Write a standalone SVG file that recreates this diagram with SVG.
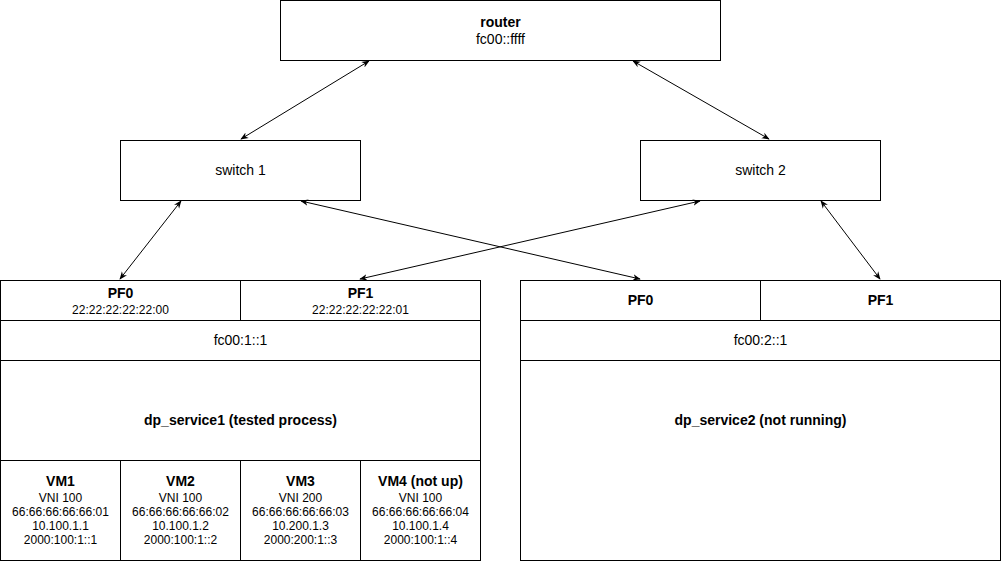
<svg xmlns="http://www.w3.org/2000/svg" width="1001" height="561" viewBox="0 0 1001 561">
<style>
.box{fill:#fff;stroke:#000;stroke-width:1}
.t{font-family:"Liberation Sans",Arial,sans-serif;font-size:14px;fill:#000;text-anchor:middle}
.s{font-size:12px}
.b{font-weight:bold}
.c{stroke:#000;stroke-width:1;fill:none;marker-start:url(#a);marker-end:url(#a)}
</style>
<defs>
<marker id="a" viewBox="0 0 10 10" refX="9" refY="5" markerWidth="8" markerHeight="8" orient="auto-start-reverse" markerUnits="userSpaceOnUse">
<path d="M0,1 L10,5 L0,9 L3,5 Z" fill="#000"/>
</marker>
</defs>
<rect width="1001" height="561" fill="#fff"/>
<g id="router">
<rect class="box" x="280.5" y="0.5" width="440" height="60"/>
<text class="t b" x="500.5" y="27">router</text>
<text class="t" x="500.5" y="44">fc00::ffff</text>
</g>
<g id="switch1">
<rect class="box" x="120.5" y="140.5" width="240" height="60"/>
<text class="t" x="240.5" y="175">switch 1</text>
</g>
<g id="switch2">
<rect class="box" x="640.5" y="140.5" width="240" height="60"/>
<text class="t" x="760.5" y="175">switch 2</text>
</g>
<g id="host1">
<rect class="box" x="0.5" y="280.5" width="240" height="40"/>
<text class="t b" x="120.5" y="298">PF0</text>
<text class="t s" x="120.5" y="314">22:22:22:22:22:00</text>
<rect class="box" x="240.5" y="280.5" width="240" height="40"/>
<text class="t b" x="360.5" y="298">PF1</text>
<text class="t s" x="360.5" y="314">22:22:22:22:22:01</text>
<rect class="box" x="0.5" y="320.5" width="480" height="40"/>
<text class="t" x="240.5" y="345">fc00:1::1</text>
<rect class="box" x="0.5" y="360.5" width="480" height="100"/>
<text class="t b" x="240.5" y="425">dp_service1 (tested process)</text>
</g>
<g id="vm1">
<rect class="box" x="0.5" y="460.5" width="120" height="100"/>
<text class="t b" x="60.5" y="486">VM1</text>
<text class="t s" x="60.5" y="502">VNI 100</text>
<text class="t s" x="60.5" y="516">66:66:66:66:66:01</text>
<text class="t s" x="60.5" y="530">10.100.1.1</text>
<text class="t s" x="60.5" y="544">2000:100:1::1</text>
</g>
<g id="vm2">
<rect class="box" x="120.5" y="460.5" width="120" height="100"/>
<text class="t b" x="180.5" y="486">VM2</text>
<text class="t s" x="180.5" y="502">VNI 100</text>
<text class="t s" x="180.5" y="516">66:66:66:66:66:02</text>
<text class="t s" x="180.5" y="530">10.100.1.2</text>
<text class="t s" x="180.5" y="544">2000:100:1::2</text>
</g>
<g id="vm3">
<rect class="box" x="240.5" y="460.5" width="120" height="100"/>
<text class="t b" x="300.5" y="486">VM3</text>
<text class="t s" x="300.5" y="502">VNI 200</text>
<text class="t s" x="300.5" y="516">66:66:66:66:66:03</text>
<text class="t s" x="300.5" y="530">10.200.1.3</text>
<text class="t s" x="300.5" y="544">2000:200:1::3</text>
</g>
<g id="vm4">
<rect class="box" x="360.5" y="460.5" width="120" height="100"/>
<text class="t b" x="420.5" y="486">VM4 (not up)</text>
<text class="t s" x="420.5" y="502">VNI 100</text>
<text class="t s" x="420.5" y="516">66:66:66:66:66:04</text>
<text class="t s" x="420.5" y="530">10.100.1.4</text>
<text class="t s" x="420.5" y="544">2000:100:1::4</text>
</g>
<g id="host2">
<rect class="box" x="520.5" y="280.5" width="240" height="40"/>
<text class="t b" x="640.5" y="305">PF0</text>
<rect class="box" x="760.5" y="280.5" width="240" height="40"/>
<text class="t b" x="880.5" y="305">PF1</text>
<rect class="box" x="520.5" y="320.5" width="480" height="40"/>
<text class="t" x="760.5" y="345">fc00:2::1</text>
<rect class="box" x="520.5" y="360.5" width="480" height="200"/>
<text class="t b" x="760.5" y="425">dp_service2 (not running)</text>
</g>
<g id="connectors">
<line class="c" x1="369" y1="61" x2="241" y2="139"/>
<line class="c" x1="633" y1="61" x2="769" y2="139"/>
<line class="c" x1="181" y1="201" x2="120" y2="279"/>
<line class="c" x1="301" y1="201" x2="640" y2="279"/>
<line class="c" x1="700" y1="201" x2="360" y2="279"/>
<line class="c" x1="821" y1="201" x2="880" y2="279"/>
</g>
</svg>
